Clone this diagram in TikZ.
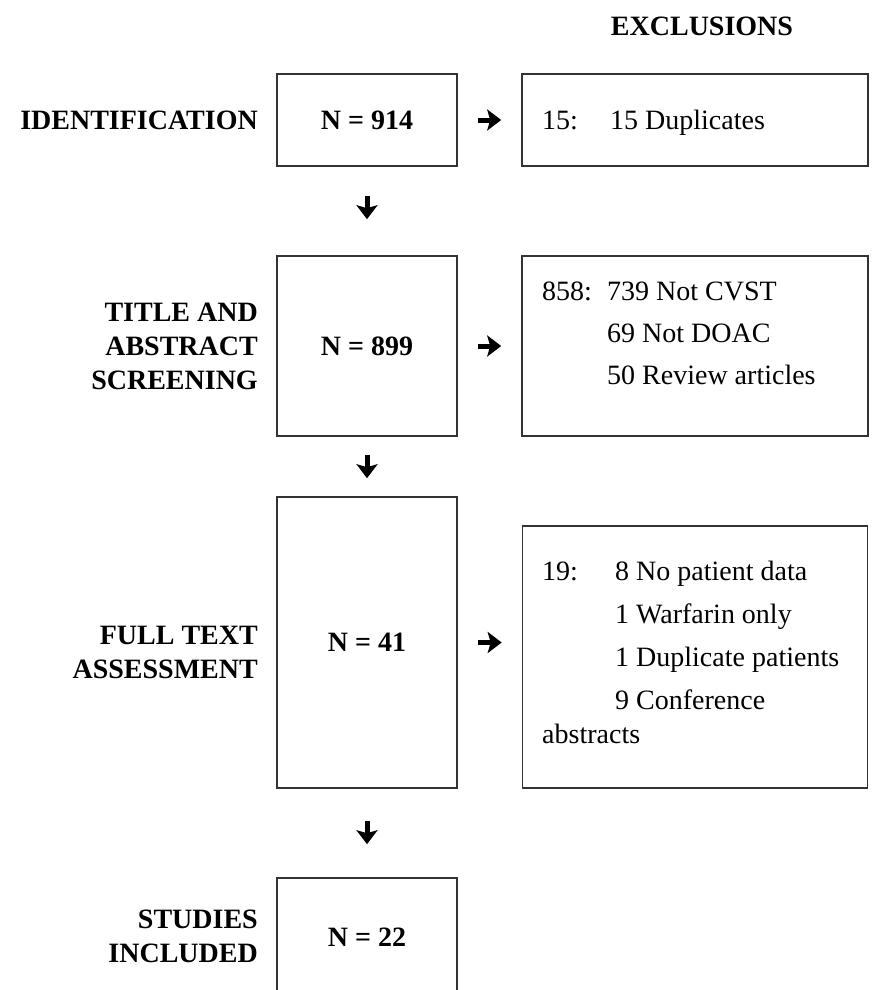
\documentclass[tikz,border=0pt]{standalone}
\usepackage{fontspec}
\setmainfont{Liberation Serif}
\usetikzlibrary{arrows.meta}
\newcommand{\flowfont}{\fontsize{28}{34}\selectfont}

\begin{document}
\begin{tikzpicture}[x=1pt,y=-1pt,
    box/.style={draw=black!80, line width=1.6pt, inner sep=0pt, font=\flowfont\bfseries},
    stage/.style={align=right, anchor=east, inner sep=0pt, font=\flowfont\bfseries},
    item/.style={anchor=base west, inner sep=0pt, font=\flowfont},
    flow/.style={line width=5pt, -{Stealth[length=14pt,width=21pt,inset=3pt]}}]
  \clip (0,0) rectangle (873,990);
  \def\lx{367};
  \def\rx{695};
  % left column
  \node[box, minimum width=180, minimum height=92] (id) at (\lx,120) {N = 914};
  \node[box, minimum width=180, minimum height=180] (ta) at (\lx,346) {N = 899};
  \node[box, minimum width=180, minimum height=291] (ft) at (\lx,642.5) {N = 41};
  \node[box, minimum width=180, minimum height=118] (si) at (\lx,937) {N = 22};
  % stage labels
  \node[stage] (lid) at (258,120) {IDENTIFICATION};
  \node[stage] (lta) at (258,346) {TITLE AND\\ABSTRACT\\SCREENING};
  \node[stage] (lft) at (258,652) {FULL TEXT\\ASSESSMENT};
  \node[stage] (lsi) at (258,936) {STUDIES\\INCLUDED};
  \node[font=\flowfont\bfseries] (exc) at (702,26) {EXCLUSIONS};
  % exclusion boxes
  \node[box, minimum width=346, minimum height=92] (ex1) at (\rx,120) {};
  \node[box, minimum width=346, minimum height=180] (ex2) at (\rx,346) {};
  \node[box, minimum width=345, minimum height=262] (ex3) at (\rx,657) {};
  \node[item] (ex1n) at (542,129) {15:};
  \node[item] (ex1t) at (610,129) {15 Duplicates};
  \node[item] (ex2n) at (542,300) {858:};
  \foreach \t [count=\i] in {739 Not CVST, 69 Not DOAC, 50 Review articles}
    \node[item] (ex2t\i) at (607,258+42*\i) {\t};
  \node[item] (ex3n) at (542,580) {19:};
  \foreach \t [count=\i] in {8 No patient data, 1 Warfarin only, 1 Duplicate patients, 9 Conference}
    \node[item] (ex3t\i) at (615,537+43*\i) {\t};
  \node[item] (ex3a) at (542,743) {abstracts};
  % arrows
  \draw[flow, shorten <=29pt, shorten >=36pt] (id) -- (ta);
  \draw[flow, shorten <=18pt, shorten >=18pt] (ta) -- (ft);
  \draw[flow, shorten <=32pt, shorten >=33pt] (ft) -- (si);
  \draw[flow, shorten <=20pt, shorten >=20pt] (id) -- (ex1);
  \draw[flow, shorten <=20pt, shorten >=20pt] (ta) -- (ex2);
  \draw[flow, shorten <=20pt, shorten >=20pt] (ft.east) -- (ft.east -| ex3.west);
\end{tikzpicture}
\end{document}
